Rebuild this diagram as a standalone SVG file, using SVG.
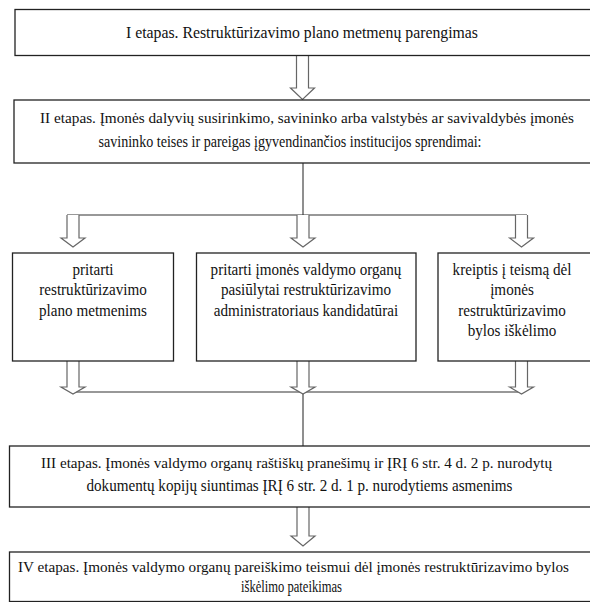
<svg xmlns="http://www.w3.org/2000/svg" width="590" height="602" viewBox="0 0 590 602">
<style>
.box{fill:#fff;stroke:#222;stroke-width:1.3}
.t{font-family:"Liberation Serif","Times New Roman",serif;font-size:17px;fill:#111}
.s{font-size:15.5px}
.c{text-anchor:middle}
.ln{stroke:#333;stroke-width:1.1;fill:none}
.ar{fill:#fff;stroke:#666;stroke-width:1.2}
</style>
<rect width="590" height="602" fill="#fff"/>
<g id="connectors">
<line class="ln" x1="303" y1="163" x2="303" y2="215"/>
<line class="ln" x1="67" y1="215" x2="527" y2="215"/>
<line class="ln" x1="73" y1="392" x2="521.5" y2="392"/>
<line class="ln" x1="303" y1="392" x2="303" y2="446"/>
<path class="ar" d="M296.5,56 V88 H290.5 L302.5,99.5 L314.5,88 H308.5 V56"/>
<path class="ar" d="M67,215 V238 H61 L73,247 L85,238 H79 V215"/>
<path class="ar" d="M297,215 V238 H291 L303,247 L315,238 H309 V215"/>
<path class="ar" d="M515.5,215 V238 H509.5 L521.5,247 L533.5,238 H527.5 V215"/>
<path class="ar" d="M67,361 V387 H61 L73,394 L85,387 H79 V361"/>
<path class="ar" d="M297,361 V387 H291 L303,394 L315,387 H309 V361"/>
<path class="ar" d="M515.5,361 V387 H509.5 L521.5,394 L533.5,387 H527.5 V361"/>
<path class="ar" d="M297,507 V536 H291 L303,546 L315,536 H309 V507"/>
</g>
<g id="stage1">
<rect class="box" x="15" y="9.5" width="577" height="46"/>
<text class="t c" x="302" y="37.5" textLength="352" lengthAdjust="spacingAndGlyphs">I etapas. Restruktūrizavimo plano metmenų parengimas</text>
</g>
<g id="stage2">
<rect class="box" x="14" y="100" width="578" height="63"/>
<text class="t s" x="40" y="123" textLength="534" lengthAdjust="spacingAndGlyphs">II etapas. Įmonės dalyvių susirinkimo, savininko arba valstybės ar savivaldybės įmonės</text>
<text class="t c" x="290" y="147" textLength="383" lengthAdjust="spacingAndGlyphs">savininko teises ir pareigas įgyvendinančios institucijos sprendimai:</text>
</g>
<g id="decision1">
<rect class="box" x="12.5" y="253" width="161" height="108"/>
<g transform="scale(0.89 1)">
<text class="t c" x="104.5" y="275">pritarti</text>
<text class="t c" x="104.5" y="295.5">restruktūrizavimo</text>
<text class="t c" x="104.5" y="316">plano metmenims</text>
</g>
</g>
<g id="decision2">
<rect class="box" x="196.5" y="253" width="219.5" height="108"/>
<g transform="scale(0.89 1)">
<text class="t c" x="343.8" y="275">pritarti įmonės valdymo organų</text>
<text class="t c" x="343.8" y="295.5">pasiūlytai restruktūrizavimo</text>
<text class="t c" x="343.8" y="316">administratoriaus kandidatūrai</text>
</g>
</g>
<g id="decision3">
<rect class="box" x="438" y="253" width="154" height="108"/>
<g transform="scale(0.89 1)">
<text class="t c" x="575.3" y="275">kreiptis į teismą dėl</text>
<text class="t c" x="575.3" y="295.5">įmonės</text>
<text class="t c" x="575.3" y="316">restruktūrizavimo</text>
<text class="t c" x="575.3" y="336.5">bylos iškėlimo</text>
</g>
</g>
<g id="stage3">
<rect class="box" x="9.5" y="446" width="582" height="61"/>
<text class="t s c" x="296.5" y="468" textLength="511" lengthAdjust="spacingAndGlyphs">III etapas. Įmonės valdymo organų raštiškų pranešimų ir ĮRĮ 6 str. 4 d. 2 p. nurodytų</text>
<text class="t c" x="299.5" y="491" textLength="426" lengthAdjust="spacingAndGlyphs">dokumentų kopijų siuntimas ĮRĮ 6 str. 2 d. 1 p. nurodytiems asmenims</text>
</g>
<g id="stage4">
<rect class="box" x="9.5" y="552" width="582" height="49.5"/>
<text class="t s" x="18" y="572" textLength="551" lengthAdjust="spacingAndGlyphs">IV etapas. Įmonės valdymo organų pareiškimo teismui dėl įmonės restruktūrizavimo bylos</text>
<text class="t c" x="291.5" y="592" textLength="101" lengthAdjust="spacingAndGlyphs">iškėlimo pateikimas</text>
</g>
</svg>
